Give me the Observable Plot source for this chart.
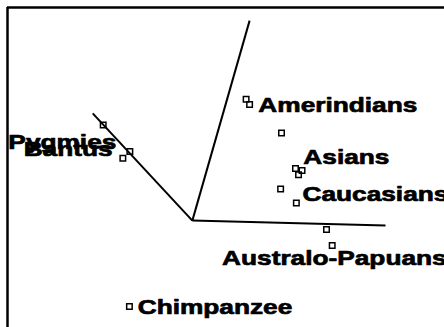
<!DOCTYPE html>
<html>
<head>
<meta charset="utf-8">
<script src="https://cdn.jsdelivr.net/npm/d3@7"></script>
<script src="https://cdn.jsdelivr.net/npm/@observablehq/plot@0.6"></script>
<style>
  html, body { margin: 0; padding: 0; background: white; overflow: hidden; }
</style>
</head>
<body>
<div id="chart"></div>
<script>
// Group labels (ordination scores, arbitrary units)
const labels = ["Pygmies", "Bantus", "Amerindians", "Asians", "Caucasians", "Australo-Papuans", "Chimpanzee"];
const labelX = [0.2, 3.7, 57.4, 67.7, 67.5, 49.1, 29.8];
const labelY = [58.0, 55.8, 69.6, 53.2, 41.6, 21.5, 6.3];

// Population points
const pointX = [21.9, 28.0, 26.4, 54.6, 55.4, 62.7, 65.9, 67.4, 66.6, 62.5, 66.1, 73.0, 74.3, 27.9];
const pointY = [63.3, 55.0, 52.9, 71.3, 69.7, 60.8, 49.7, 49.1, 47.7, 43.3, 38.9, 30.6, 25.6, 6.6];

// Tree: central node and branch tips
const nodeX = 42.3, nodeY = 33.4;
const tipX = [19.5, 55.4, 86.5];
const tipY = [66.9, 95.9, 31.9];

const labelData = labels.map((name, i) => ({name, x: labelX[i], y: labelY[i]}));
const pointData = pointX.map((x, i) => ({x, y: pointY[i]}));
const branchData = tipX.map((x, i) => ({x1: nodeX, y1: nodeY, x2: x, y2: tipY[i]}));

const svg = Plot.plot({
  width: 444,
  height: 327,
  marginLeft: 7,
  marginTop: 7,
  marginRight: 0,
  marginBottom: 0,
  style: {fontFamily: "'Liberation Sans', Arial, sans-serif", background: "white"},
  x: {domain: [0, 100], axis: null},
  y: {domain: [0, 100], axis: null},
  marks: [
    Plot.ruleX([0], {stroke: "black", strokeWidth: 2.5}),
    Plot.ruleY([100], {stroke: "black", strokeWidth: 2.5}),
    Plot.link(branchData, {x1: "x1", y1: "y1", x2: "x2", y2: "y2", stroke: "black", strokeWidth: 2}),
    Plot.dot(pointData, {x: "x", y: "y", symbol: "square", r: 3.1, fill: "none", stroke: "black", strokeWidth: 1.5}),
    Plot.text(labelData, {x: "x", y: "y", text: "name", textAnchor: "start", fontSize: 21, fontWeight: "bold",
      fill: "black", stroke: "black", strokeWidth: 0.7, strokeLinejoin: "round"})
  ]
});

document.getElementById("chart").appendChild(svg);

// Horizontally widen the label lettering as in the reference
svg.querySelectorAll("text").forEach(t => {
  const tr = t.getAttribute("transform");
  if (tr) {
    t.setAttribute("transform", tr + " scale(1.25,1)");
  } else {
    const x = +t.getAttribute("x") || 0;
    t.setAttribute("transform", `translate(${x},0) scale(1.25,1) translate(${-x},0)`);
  }
});
</script>
</body>
</html>
